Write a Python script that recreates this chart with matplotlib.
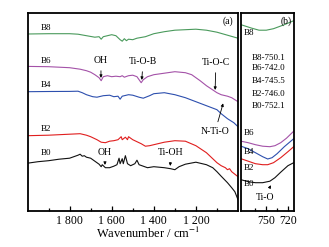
import matplotlib
matplotlib.use("Agg")
import matplotlib.pyplot as plt
import numpy as np

plt.rcParams['font.family'] = ['Liberation Serif', 'DejaVu Serif']
plt.rcParams['mathtext.fontset'] = 'stix'

# ---- panel (a): 2000-1000 cm-1 ----
w_b8 = [2000, 1900, 1800, 1760, 1720, 1680, 1660, 1650, 1640, 1620, 1600, 1580, 1560, 1550, 1540, 1530, 1520, 1500, 1480, 1440, 1400, 1350, 1300, 1250, 1200, 1150, 1100, 1050, 1000]
b8 = [176.7, 177, 177, 176.5, 175, 173.5, 174, 171.5, 174, 175, 176, 175, 171, 169.5, 172, 170, 171.5, 171, 172.5, 174, 177, 179, 180.5, 181, 181.5, 180.5, 178.5, 175.5, 172.5]

w_b6 = [2000, 1900, 1800, 1750, 1720, 1700, 1680, 1660, 1650, 1640, 1620, 1600, 1580, 1560, 1550, 1540, 1520, 1500, 1480, 1470, 1460, 1450, 1430, 1400, 1350, 1300, 1250, 1220, 1180, 1150, 1100, 1080, 1050, 1030, 1000]
b6 = [144.3, 144, 143, 141.5, 140, 138.5, 136, 133, 130, 134, 135, 134, 134.5, 134, 135, 133.5, 135, 135.5, 134, 131, 128, 131, 134, 136, 137.5, 139, 138, 136, 130, 125, 118, 116, 114.5, 113, 109]

w_b4 = [2000, 1900, 1800, 1760, 1740, 1720, 1690, 1670, 1640, 1610, 1590, 1570, 1560, 1550, 1520, 1500, 1470, 1450, 1420, 1400, 1350, 1300, 1250, 1200, 1150, 1100, 1080, 1050, 1020, 1000]
b4 = [119, 119.2, 119.3, 119.5, 118, 116, 114, 113.5, 115, 115.5, 114, 114.5, 111.5, 114.5, 116, 115.5, 113.5, 112.5, 115, 117, 118, 116, 113, 109, 105, 101, 97, 92, 88, 84]

w_b2 = [2000, 1900, 1800, 1750, 1720, 1700, 1670, 1650, 1630, 1610, 1590, 1570, 1555, 1550, 1535, 1525, 1520, 1500, 1480, 1460, 1440, 1420, 1400, 1350, 1300, 1250, 1200, 1150, 1120, 1100, 1080, 1060, 1050, 1040, 1030, 1000]
b2 = [75, 75.5, 76.5, 77, 75.5, 74, 71, 68.5, 68, 69.5, 70, 71, 74, 71, 73.5, 71, 74, 71, 69, 67, 64.5, 65, 66, 68.5, 70, 69.5, 65, 58, 52, 48, 45, 43, 41, 42, 39, 34]

w_b0 = [2000, 1950, 1900, 1850, 1800, 1780, 1760, 1750, 1740, 1730, 1720, 1700, 1680, 1660, 1650, 1645, 1630, 1610, 1590, 1575, 1565, 1560, 1550, 1545, 1535, 1525, 1510, 1490, 1480, 1470, 1450, 1430, 1400, 1350, 1320, 1300, 1280, 1250, 1200, 1150, 1120, 1100, 1080, 1050, 1030, 1015, 1000]
b0 = [47.5, 49, 50, 51.5, 52.5, 54, 55.5, 56.5, 54.5, 55, 53.5, 52.5, 49.5, 46.5, 44, 46, 43, 43, 44.5, 46, 52.5, 47, 52, 47, 55, 47, 45, 47, 50.5, 46, 44.5, 43, 44, 43, 42, 41, 44, 46.5, 48.5, 46, 43, 39, 34.5, 28, 23, 19, 11]

# ---- panel (b): 785-712 cm-1 ----
w_r = [785, 775, 765, 755, 745, 738, 730, 722, 712]
r_b6 = [69.5, 68, 66, 64.5, 64, 65, 68, 72.5, 79.5]
w_r4 = [785, 775, 765, 755, 748, 742, 735, 725, 712]
r_b4 = [64.5, 62, 58, 54, 51.7, 53, 57, 64, 72]
w_r2 = [785, 775, 765, 755, 748, 740, 730, 720, 712]
r_b2 = [52, 49.5, 47, 46, 46, 48, 53, 59, 64]
w_r0 = [785, 775, 765, 755, 745, 738, 730, 720, 712]
r_b0 = [31, 29, 28, 28, 29.5, 33, 38.5, 45, 48]
w_r8 = [785, 770, 760, 750, 740, 725, 712]
r_b8 = [186, 182.5, 180.5, 180.5, 182, 186, 190]

peak_labels = ["B8-750.1", "B6-742.0", "B4-745.5", "B2-746.0", "B0-752.1"]
series_names = ["B8", "B6", "B4", "B2", "B0"]
major_a = [1800, 1600, 1400, 1200]
minor_a = [1900, 1700, 1500, 1300, 1100]
major_b = [750, 720]
minor_b = [765, 735]

colors = {"B8": "#4a9a5c", "B6": "#a452a8", "B4": "#2d4fae", "B2": "#e01e1e", "B0": "#111111"}

fig = plt.figure(figsize=(3.29, 2.47), dpi=100)
axa = fig.add_axes([27.5/329, 1-210.7/247, 210.5/329, 198/247])
axb = fig.add_axes([241/329, 1-210.7/247, 52.7/329, 198/247])

lw = 0.8
axa.plot(w_b8, b8, color=colors["B8"], lw=lw)
axa.plot(w_b6, b6, color=colors["B6"], lw=lw)
axa.plot(w_b4, b4, color=colors["B4"], lw=lw)
axa.plot(w_b2, b2, color=colors["B2"], lw=lw)
axa.plot(w_b0, b0, color=colors["B0"], lw=lw)

axb.plot(w_r8, r_b8, color=colors["B8"], lw=lw)
axb.plot(w_r, r_b6, color=colors["B6"], lw=lw)
axb.plot(w_r4, r_b4, color=colors["B4"], lw=lw)
axb.plot(w_r2, r_b2, color=colors["B2"], lw=lw)
axb.plot(w_r0, r_b0, color=colors["B0"], lw=lw)

for ax, xl, mj, mn in [(axa, (2000, 1000), major_a, minor_a), (axb, (785, 712), major_b, minor_b)]:
    ax.set_xlim(*xl)
    ax.set_ylim(0, 198)
    ax.set_yticks([])
    ax.set_xticks(mj)
    ax.set_xticks(mn, minor=True)
    ax.set_xticklabels([f"{v:,}".replace(",", " ") for v in mj], fontsize=8.5)
    ax.tick_params(axis='x', which='major', direction='in', length=3.5, width=0.9, pad=3)
    ax.tick_params(axis='x', which='minor', direction='in', length=2, width=0.9)
    for s in ax.spines.values():
        s.set_linewidth(1.3)

fs = 6.5
label_y_a = [183, 150, 126, 82, 58]
for name, yy in zip(series_names, label_y_a):
    axa.text(1912, yy, name, fontsize=fs, ha='center', va='center')

ap = dict(arrowstyle='-|>', color='black', lw=0.6, mutation_scale=4)
axa.annotate("OH", xy=(1651, 130), xytext=(1651, 150), fontsize=7, ha='center', va='center', arrowprops=ap)
axa.annotate("Ti-O-B", xy=(1458, 128), xytext=(1451, 149), fontsize=7, ha='center', va='center', arrowprops=ap)
axa.annotate("Ti-O-C", xy=(1109, 118), xytext=(1105, 148), fontsize=7, ha='center', va='center', arrowprops=ap)
axa.annotate("N-Ti-O", xy=(1067, 110), xytext=(1109, 79), fontsize=7, ha='center', va='center', arrowprops=ap)
axa.annotate("OH", xy=(1632, 43), xytext=(1632, 58), fontsize=7, ha='center', va='center', arrowprops=ap)
axa.annotate("Ti-OH", xy=(1323, 42), xytext=(1318, 58), fontsize=7, ha='center', va='center', arrowprops=ap)
axa.text(1048, 190, "(a)", fontsize=7, ha='center', va='center')

axb.text(722.7, 190, "(b)", fontsize=7, ha='center', va='center')
label_y_b = [177.5, 78, 58.3, 42.7, 27]
for name, yy in zip(series_names, label_y_b):
    axb.text(774.5, yy, name, fontsize=fs, ha='center', va='center')
list_y = [152.7, 142.7, 130, 116.7, 104.3]
for t, yy in zip(peak_labels, list_y):
    axb.text(746.2, yy, t, fontsize=6.5, ha='center', va='center')
axb.annotate("Ti-O", xy=(742, 28), xytext=(751.8, 13.7), fontsize=7, ha='center', va='center', arrowprops=ap)

fig.text(148/329, 1-233/247, "Wavenumber / cm$^{-1}$", fontsize=9, ha='center', va='center')

fig.savefig("out.png", dpi=100)
